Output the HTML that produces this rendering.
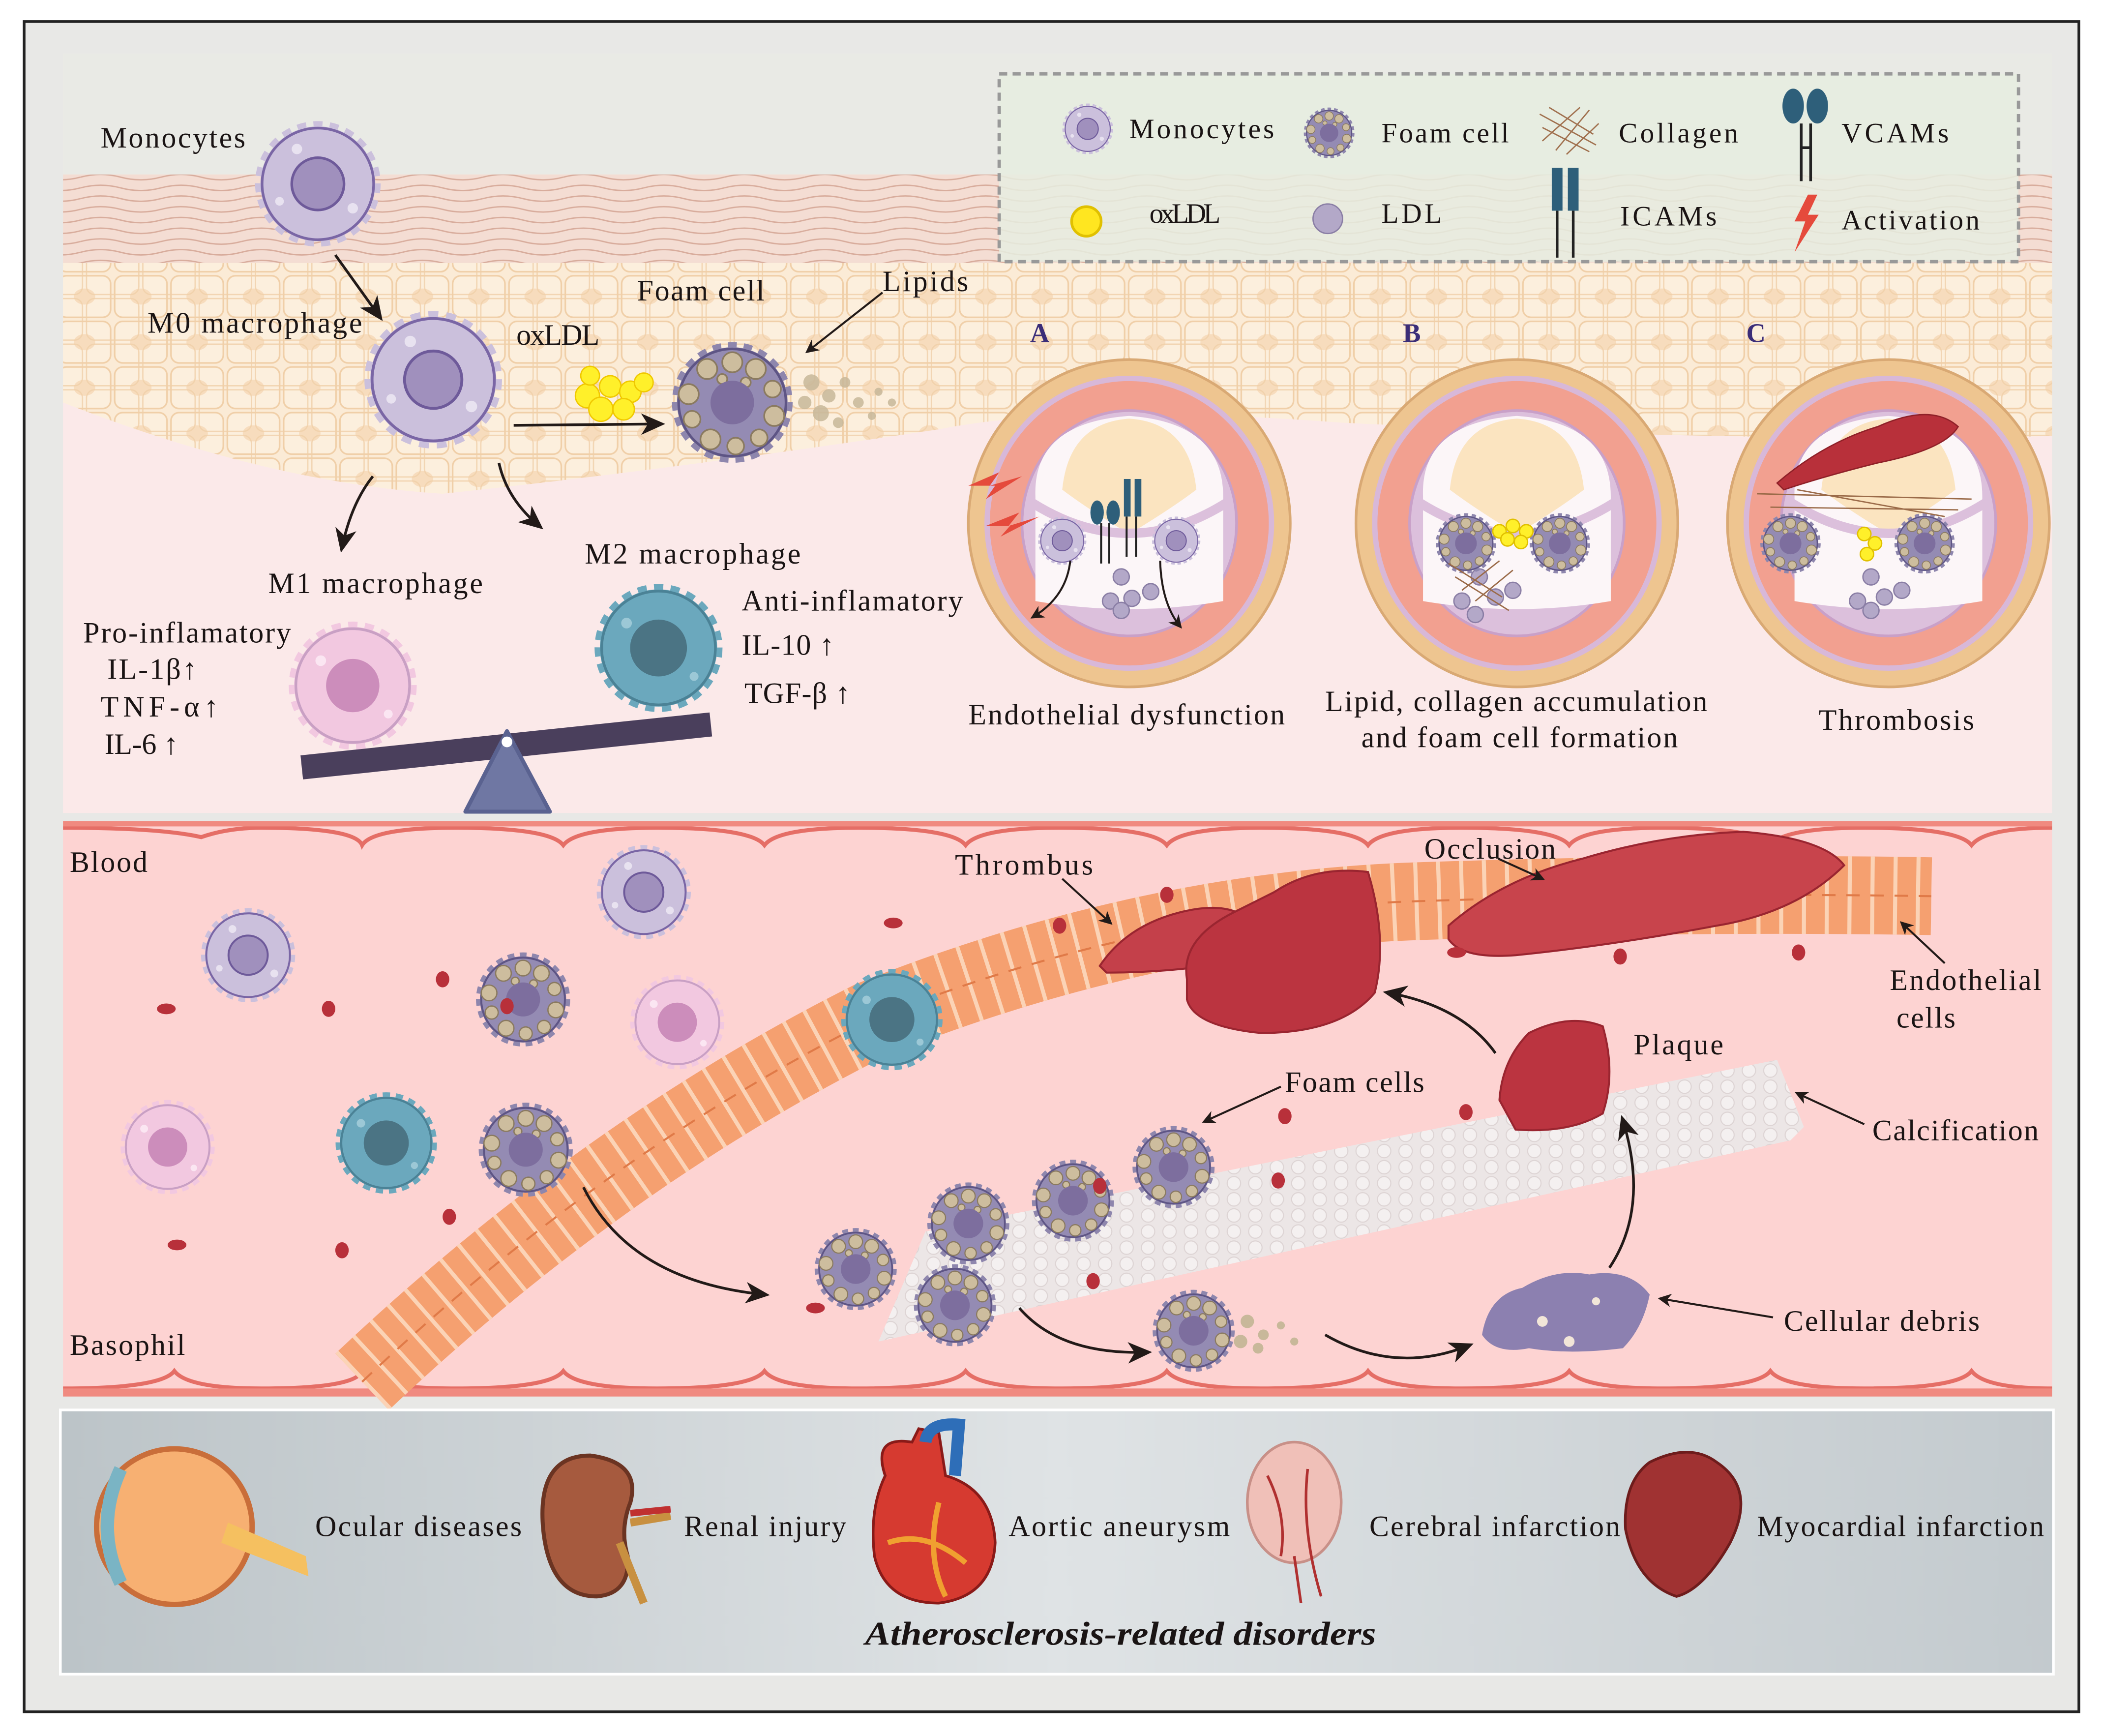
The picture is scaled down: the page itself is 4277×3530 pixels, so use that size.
<!DOCTYPE html>
<html><head><meta charset="utf-8"><style>html,body{margin:0;padding:0;background:#fff}svg{display:block}text{font-family:"Liberation Serif",serif;fill:#1a1414}</style></head><body>
<svg width="4277" height="3530" viewBox="0 0 1568 1294" xmlns="http://www.w3.org/2000/svg">
<defs>
<marker id="ah" markerWidth="10" markerHeight="10" refX="8" refY="5" orient="auto" markerUnits="userSpaceOnUse"><path d="M0,0 L10,5 L0,10 L3,5Z" fill="#221a18"/></marker>
<marker id="ahb" markerWidth="18" markerHeight="16" refX="14" refY="8" orient="auto" markerUnits="userSpaceOnUse"><path d="M0,0 L18,8 L0,16 L5,8Z" fill="#221a18"/></marker>
<symbol id="mono" viewBox="-40 -40 80 80"><circle r="33" fill="#cbc0dc" stroke="#cbc0dc" stroke-width="6" stroke-dasharray="5 4"/><circle r="32" fill="#cbc0dc" stroke="#7a66a5" stroke-width="1.5"/><circle cx="-12" cy="-20" r="3" fill="#e8e2f0"/><circle cx="20" cy="14" r="3" fill="#e8e2f0"/><circle cx="-22" cy="10" r="2.5" fill="#e8e2f0"/><circle r="15" fill="#a090bd" stroke="#6e5a9a" stroke-width="1.5"/></symbol>
<symbol id="foam" viewBox="-40 -40 80 80"><circle r="33" fill="#8e86ad" stroke="#8e86ad" stroke-width="6" stroke-dasharray="5 4"/><circle r="32" fill="#948bb3" stroke="#5e5585" stroke-width="1.5"/><g fill="#cdbd9e" stroke="#8a7a60" stroke-width="1"><circle cx="0" cy="-24" r="6"/><circle cx="14" cy="-20" r="6"/><circle cx="24" cy="-8" r="5"/><circle cx="25" cy="8" r="6"/><circle cx="16" cy="21" r="5"/><circle cx="2" cy="26" r="5"/><circle cx="-13" cy="22" r="6"/><circle cx="-24" cy="10" r="5"/><circle cx="-26" cy="-5" r="6"/><circle cx="-15" cy="-20" r="6"/><circle cx="-6" cy="-14" r="3"/><circle cx="8" cy="-12" r="3"/></g><circle r="13" fill="#7d6e9e"/></symbol>
<symbol id="m1" viewBox="-40 -40 80 80"><circle r="33" fill="#f2c8e0" stroke="#f2c8e0" stroke-width="6" stroke-dasharray="5 4"/><circle r="32" fill="#f2c8e0" stroke="#c9a0c4" stroke-width="1.5"/><circle cx="-18" cy="-14" r="3" fill="#fbe6f2"/><circle cx="20" cy="16" r="2.5" fill="#fbe6f2"/><circle r="15" fill="#cc8dbb"/></symbol>
<symbol id="m2" viewBox="-40 -40 80 80"><circle r="33" fill="#6ba8bd" stroke="#6ba8bd" stroke-width="6" stroke-dasharray="5 4"/><circle r="32" fill="#6ba8bd" stroke="#4b8296" stroke-width="1.5"/><circle cx="-18" cy="-14" r="3" fill="#9cc8d6"/><circle cx="20" cy="16" r="2.5" fill="#9cc8d6"/><circle r="16" fill="#4b7484"/></symbol>
<pattern id="cells" width="42" height="34" patternUnits="userSpaceOnUse"><rect width="42" height="34" fill="#fbebd6"/><rect x="1.5" y="1.5" width="39" height="31" rx="6" fill="#fcefdd" stroke="#f0cfa8" stroke-width="1.2"/><ellipse cx="21" cy="17" rx="8" ry="6" fill="#f7dcbd"/></pattern>
<pattern id="cells2" x="21" y="17" width="42" height="34" patternUnits="userSpaceOnUse"><rect x="1.5" y="1.5" width="39" height="31" rx="6" fill="none" stroke="#f0cfa8" stroke-width="1"/></pattern>
<pattern id="fib" width="60" height="8" patternUnits="userSpaceOnUse"><rect width="60" height="8" fill="#f4ddd3"/><path d="M0,4 Q15,0 30,4 T60,4" fill="none" stroke="#d8ac9c" stroke-width="1"/></pattern>
<pattern id="calc" width="16" height="12" patternUnits="userSpaceOnUse"><rect width="16" height="12" fill="#ece6e6"/><circle cx="8" cy="6" r="5" fill="#f4f0f0" stroke="#ddd4d4" stroke-width="0.8"/></pattern>
<linearGradient id="gr" x1="0" x2="1"><stop offset="0" stop-color="#bcc4c8"/><stop offset="0.5" stop-color="#dfe3e5"/><stop offset="1" stop-color="#c3cace"/></linearGradient>
<symbol id="art" viewBox="-130 -130 260 260"><ellipse rx="120" ry="122" fill="#eec590" stroke="#d9a974" stroke-width="2"/><ellipse rx="106" ry="108" fill="#f2a090" stroke="#d8b8d8" stroke-width="4"/><ellipse rx="80" ry="84" fill="#dcc0dc" stroke="#c9a0c8" stroke-width="2"/><path d="M-70,-20 Q-72,-75 0,-80 Q70,-75 70,-20 L70,58 Q0,70 -70,58Z" fill="#fcf6f8"/><path d="M-50,-25 Q-45,-75 0,-78 Q45,-75 50,-25 Q30,-10 0,8 Q-30,-10 -50,-25Z" fill="#fbe4c0"/><path d="M-72,-15 Q0,30 72,-15" fill="none" stroke="#dcc0dc" stroke-width="7"/></symbol>
</defs>

<rect x="18" y="16" width="1532" height="1260" fill="#e8e8e6" stroke="#222" stroke-width="2"/>
<rect x="47" y="40" width="1483" height="566" fill="#fbe9e9"/>
<rect x="47" y="40" width="1483" height="92" fill="#e9eae5"/>
<rect x="47" y="130" width="1483" height="68" fill="url(#fib)"/>
<path d="M47,196 L1530,196 L1530,325 Q1300,330 1000,315 Q800,300 700,320 Q500,350 330,368 Q200,360 47,300Z" fill="url(#cells)"/>
<path d="M47,196 L1530,196 L1530,325 Q1300,330 1000,315 Q800,300 700,320 Q500,350 330,368 Q200,360 47,300Z" fill="url(#cells2)" opacity="0.8"/>

<rect x="745" y="55" width="760" height="140" fill="#e6ede0" fill-opacity="0.85" stroke="#999" stroke-width="2.5" stroke-dasharray="6 4"/>
<use href="#mono" x="790" y="75" width="42" height="42"/>
<use href="#foam" x="970" y="78" width="42" height="42"/>
<g stroke="#a0704e" stroke-width="1" fill="none"><path d="M1148,85 L1190,108 M1150,95 L1185,113 M1155,80 L1188,100 M1160,112 L1185,82 M1150,105 L1178,80 M1168,115 L1192,92"/></g>
<g fill="#2e5f7a"><ellipse cx="1337" cy="79" rx="8" ry="13"/><ellipse cx="1355" cy="79" rx="8" ry="13"/></g>
<path d="M1343,92 V135 M1350,92 V135 M1343,110 H1350" stroke="#222" stroke-width="2"/>
<circle cx="810" cy="165" r="11" fill="#ffe620" stroke="#e0c000" stroke-width="2"/>
<circle cx="990" cy="163" r="11" fill="#b3a8c8" stroke="#8a7ea5"/>
<rect x="1157" y="125" width="8" height="32" fill="#2e5f7a"/><rect x="1169" y="125" width="8" height="32" fill="#2e5f7a"/>
<path d="M1161,157 V192 M1173,157 V192" stroke="#222" stroke-width="2"/>
<path d="M1348,145 L1338,165 L1346,165 L1338,188 L1356,160 L1348,160 L1355,145Z" fill="#e54a3c"/>
<g font-size="21" lengthAdjust="spacingAndGlyphs">
<text x="842" y="103" textLength="108">Monocytes</text><text x="1030" y="106" textLength="95">Foam cell</text><text x="1207" y="106" textLength="89">Collagen</text><text x="1373" y="106" textLength="80">VCAMs</text>
<text x="857" y="166" textLength="53">oxLDL</text><text x="1030" y="166" textLength="45">LDL</text><text x="1208" y="168" textLength="72">ICAMs</text><text x="1373" y="171" textLength="103">Activation</text>
</g>

<use href="#mono" x="185" y="85" width="104" height="104"/>
<use href="#mono" x="266" y="226" width="114" height="114"/>
<use href="#foam" x="496" y="250" width="100" height="100"/>
<g fill="#fff02a" stroke="#f0c800"><circle cx="438" cy="295" r="9"/><circle cx="455" cy="288" r="8"/><circle cx="470" cy="292" r="8"/><circle cx="448" cy="305" r="9"/><circle cx="465" cy="305" r="8"/><circle cx="480" cy="285" r="7"/><circle cx="440" cy="280" r="7"/></g>
<g fill="#c8b89a" opacity="0.85"><circle cx="605" cy="285" r="6"/><circle cx="618" cy="295" r="5"/><circle cx="630" cy="285" r="4"/><circle cx="612" cy="308" r="6"/><circle cx="640" cy="300" r="4"/><circle cx="655" cy="292" r="3"/><circle cx="600" cy="300" r="5"/><circle cx="625" cy="315" r="4"/><circle cx="665" cy="300" r="3"/><circle cx="650" cy="310" r="3"/></g>
<path d="M250,190 L283,236" stroke="#221a18" stroke-width="2" marker-end="url(#ahb)"/>
<path d="M383,317 L492,316" stroke="#221a18" stroke-width="2" marker-end="url(#ahb)"/>
<path d="M658,218 L602,262" stroke="#221a18" stroke-width="1.5" marker-end="url(#ah)"/>
<path d="M278,355 Q262,375 255,408" fill="none" stroke="#221a18" stroke-width="2" marker-end="url(#ahb)"/>
<path d="M372,345 Q378,372 402,392" fill="none" stroke="#221a18" stroke-width="2" marker-end="url(#ahb)"/>
<use href="#m1" x="210" y="458" width="106" height="106"/>
<use href="#m2" x="438" y="430" width="106" height="106"/>
<path d="M225,572 L530,540" stroke="#4a3f5c" stroke-width="18"/>
<path d="M378,545 L410,605 L347,605Z" fill="#6f77a3" stroke="#5a6290" stroke-width="3" stroke-linejoin="round"/>
<circle cx="378" cy="553" r="4" fill="#fff"/>
<g font-size="22" lengthAdjust="spacingAndGlyphs">
<text x="75" y="110" textLength="108">Monocytes</text><text x="110" y="248" textLength="160">M0 macrophage</text><text x="385" y="257" textLength="62">oxLDL</text><text x="475" y="224" textLength="95">Foam cell</text><text x="658" y="217" textLength="64">Lipids</text>
<text x="200" y="442" textLength="160">M1 macrophage</text><text x="436" y="420" textLength="161">M2 macrophage</text>
<text x="62" y="479" textLength="155">Pro-inflamatory</text><text x="80" y="506" textLength="67">IL-1β↑</text><text x="75" y="534" textLength="88">TNF-α↑</text><text x="78" y="562" textLength="55">IL-6 ↑</text>
<text x="553" y="455" textLength="165">Anti-inflamatory</text><text x="553" y="488" textLength="69">IL-10 ↑</text><text x="555" y="524" textLength="79">TGF-β ↑</text>
<text x="722" y="540" textLength="236">Endothelial dysfunction</text><text x="988" y="530" textLength="285">Lipid, collagen accumulation</text><text x="1015" y="557" textLength="236">and foam cell formation</text><text x="1356" y="544" textLength="116">Thrombosis</text>
</g>
<g font-size="20" font-weight="bold"><text x="768" y="255" style="fill:#3b2d78">A</text><text x="1046" y="255" style="fill:#3b2d78">B</text><text x="1302" y="255" style="fill:#3b2d78">C</text></g>

<use href="#art" x="712" y="260" width="260" height="260"/>
<use href="#art" x="1001" y="260" width="260" height="260"/>
<use href="#art" x="1278" y="260" width="260" height="260"/>
<path d="M722,362 L745,352 L738,362 L762,355 L735,372 L742,362Z M735,392 L760,382 L752,392 L775,385 L746,400 L753,392Z" fill="#e54a3c"/>
<use href="#mono" x="772" y="383" width="40" height="40"/><use href="#mono" x="857" y="383" width="40" height="40"/>
<g fill="#2e5f7a"><ellipse cx="818" cy="382" rx="5" ry="9"/><ellipse cx="830" cy="382" rx="5" ry="9"/><rect x="838" y="357" width="5" height="28"/><rect x="846" y="357" width="5" height="28"/></g>
<path d="M821,390 V420 M827,390 V420 M840,385 V415 M847,385 V415" stroke="#222" stroke-width="1.5"/>
<g fill="#b3a8c8" stroke="#8a7ea5"><circle cx="836" cy="430" r="6"/><circle cx="828" cy="448" r="6"/><circle cx="844" cy="446" r="6"/><circle cx="858" cy="441" r="6"/><circle cx="836" cy="455" r="6"/><circle cx="1103" cy="430" r="6"/><circle cx="1090" cy="448" r="6"/><circle cx="1115" cy="445" r="6"/><circle cx="1128" cy="440" r="6"/><circle cx="1100" cy="458" r="6"/><circle cx="1395" cy="430" r="6"/><circle cx="1385" cy="448" r="6"/><circle cx="1405" cy="445" r="6"/><circle cx="1418" cy="440" r="6"/><circle cx="1395" cy="455" r="6"/></g>
<path d="M798,418 Q795,445 770,460" fill="none" stroke="#221a18" stroke-width="1.5" marker-end="url(#ah)"/>
<path d="M865,418 Q866,450 880,467" fill="none" stroke="#221a18" stroke-width="1.5" marker-end="url(#ah)"/>
<use href="#foam" x="1068" y="380" width="50" height="50"/><use href="#foam" x="1138" y="380" width="50" height="50"/>
<use href="#foam" x="1310" y="380" width="50" height="50"/><use href="#foam" x="1410" y="380" width="50" height="50"/>
<g fill="#fff02a" stroke="#e0c000"><circle cx="1118" cy="396" r="5"/><circle cx="1128" cy="392" r="5"/><circle cx="1138" cy="396" r="5"/><circle cx="1124" cy="402" r="5"/><circle cx="1134" cy="404" r="5"/><circle cx="1390" cy="398" r="5"/><circle cx="1398" cy="405" r="5"/><circle cx="1392" cy="413" r="5"/></g>
<g stroke="#9a6a48" stroke-width="1" fill="none"><path d="M1080,420 L1120,445 M1085,430 L1125,455 M1090,440 L1118,418 M1100,448 L1128,425 M1310,368 L1470,372 M1320,378 L1460,380 M1340,365 L1450,385"/></g>
<path d="M1325,360 Q1360,330 1400,318 Q1440,300 1460,318 Q1450,335 1400,345 Q1360,355 1330,365Z" fill="#b8303a" stroke="#8f2028"/>

<rect x="47" y="612" width="1483" height="428" fill="#fdd3d2"/>
<g fill="none" stroke="#e56e66" stroke-width="3"><path d="M47,617 Q120,617 150,624 Q170,617 195,617 Q265,617 270,630 Q278,617 340,617 Q410,617 420,630 Q430,617 490,617 Q560,617 570,630 Q580,617 640,617 Q710,617 720,630 Q730,617 790,617 Q860,617 870,630 Q880,617 940,617 Q1010,617 1020,630 Q1030,617 1090,617 Q1160,617 1170,630 Q1180,617 1240,617 Q1310,617 1320,630 Q1330,617 1390,617 Q1460,617 1470,630 Q1480,617 1530,617"/>
<path d="M47,1035 Q120,1035 130,1022 Q140,1035 195,1035 Q265,1035 270,1022 Q278,1035 340,1035 Q410,1035 420,1022 Q430,1035 490,1035 Q560,1035 570,1022 Q580,1035 640,1035 Q710,1035 720,1022 Q730,1035 790,1035 Q860,1035 870,1022 Q880,1035 940,1035 Q1010,1035 1020,1022 Q1030,1035 1090,1035 Q1160,1035 1170,1022 Q1180,1035 1240,1035 Q1310,1035 1320,1022 Q1330,1035 1390,1035 Q1460,1035 1470,1022 Q1480,1035 1530,1035"/></g>
<rect x="47" y="1035" width="1483" height="6" fill="#f08a80"/>
<rect x="47" y="612" width="1483" height="4" fill="#f08a80"/>
<polygon points="655,1000 690,918 1325,790 1345,840 1335,850" fill="url(#calc)"/>
<path d="M270,1030 Q450,860 650,760 Q850,680 1050,672 Q1250,665 1440,668" fill="none" stroke="#f5a070" stroke-width="58"/>
<path d="M270,1030 Q450,860 650,760 Q850,680 1050,672 Q1250,665 1440,668" fill="none" stroke="#fde0c8" stroke-width="58" stroke-dasharray="3 14" opacity="0.8"/>
<path d="M270,1030 Q450,860 650,760 Q850,680 1050,672 Q1250,665 1440,668" fill="none" stroke="#e07a48" stroke-width="1.5" stroke-dasharray="10 8"/>
<g fill="#c4404a" stroke="#9a2530" stroke-width="1.5">
<path d="M820,720 Q840,690 880,680 Q920,670 935,690 L930,715 Q880,725 825,725Z"/>
<path d="M885,730 Q880,700 920,680 L950,665 Q980,645 1020,650 Q1035,700 1025,740 Q1000,770 940,770 Q890,765 885,745Z" fill="#bb3440"/>
<path d="M1080,690 Q1120,655 1180,640 Q1240,622 1300,620 Q1360,625 1375,645 Q1340,680 1280,690 Q1200,705 1130,712 Q1090,715 1080,700Z" fill="#c8444c"/>
<path d="M1118,820 Q1120,790 1140,770 Q1170,755 1195,765 Q1205,800 1195,830 Q1170,845 1130,842Z" fill="#bb3440"/>
</g>
<use href="#mono" x="146" y="673" width="78" height="78"/><use href="#mono" x="441" y="626" width="78" height="78"/>
<use href="#foam" x="351" y="706" width="78" height="78"/><use href="#foam" x="353" y="818" width="78" height="78"/>
<use href="#m1" x="466" y="723" width="78" height="78"/><use href="#m1" x="86" y="816" width="78" height="78"/>
<use href="#m2" x="246" y="810" width="84" height="84"/><use href="#m2" x="623" y="718" width="84" height="84"/>
<use href="#foam" x="604" y="912" width="68" height="68"/><use href="#foam" x="688" y="878" width="68" height="68"/><use href="#foam" x="766" y="861" width="68" height="68"/><use href="#foam" x="841" y="836" width="68" height="68"/><use href="#foam" x="678" y="939" width="68" height="68"/><use href="#foam" x="856" y="958" width="68" height="68"/>
<g fill="#c8b89a"><circle cx="930" cy="985" r="5"/><circle cx="942" cy="995" r="4"/><circle cx="955" cy="988" r="3"/><circle cx="938" cy="1005" r="4"/><circle cx="965" cy="1000" r="3"/><circle cx="925" cy="1000" r="5"/></g>
<g fill="#b8303a"><ellipse cx="330" cy="730" rx="5" ry="6"/><ellipse cx="378" cy="750" rx="5" ry="6"/><ellipse cx="245" cy="752" rx="5" ry="6"/><ellipse cx="124" cy="752" rx="7" ry="4"/><ellipse cx="666" cy="688" rx="7" ry="4"/><ellipse cx="870" cy="667" rx="5" ry="6"/><ellipse cx="790" cy="690" rx="5" ry="6"/><ellipse cx="335" cy="907" rx="5" ry="6"/><ellipse cx="255" cy="932" rx="5" ry="6"/><ellipse cx="132" cy="928" rx="7" ry="4"/><ellipse cx="608" cy="975" rx="7" ry="4"/><ellipse cx="815" cy="955" rx="5" ry="6"/><ellipse cx="953" cy="880" rx="5" ry="6"/><ellipse cx="958" cy="832" rx="5" ry="6"/><ellipse cx="1093" cy="829" rx="5" ry="6"/><ellipse cx="1086" cy="710" rx="7" ry="4"/><ellipse cx="1208" cy="713" rx="5" ry="6"/><ellipse cx="1341" cy="710" rx="5" ry="6"/><ellipse cx="820" cy="884" rx="5" ry="6"/></g>
<g fill="#8c80b0"><path d="M1105,995 Q1110,965 1135,960 Q1160,945 1185,950 Q1215,945 1230,965 Q1225,990 1210,1005 Q1170,1010 1140,1005 Q1115,1010 1105,995Z"/></g>
<g fill="#f2e6d8"><circle cx="1150" cy="985" r="4"/><circle cx="1190" cy="970" r="3"/><circle cx="1170" cy="1000" r="4"/></g>
<path d="M435,885 Q470,955 570,965" fill="none" stroke="#221a18" stroke-width="2" marker-end="url(#ahb)"/>
<path d="M760,975 Q790,1010 855,1008" fill="none" stroke="#221a18" stroke-width="2" marker-end="url(#ahb)"/>
<path d="M988,995 Q1040,1025 1095,1003" fill="none" stroke="#221a18" stroke-width="2" marker-end="url(#ahb)"/>
<path d="M1200,945 Q1230,900 1210,835" fill="none" stroke="#221a18" stroke-width="2" marker-end="url(#ahb)"/>
<path d="M1115,785 Q1090,750 1035,740" fill="none" stroke="#221a18" stroke-width="2" marker-end="url(#ahb)"/>
<g stroke="#221a18" stroke-width="1.5" fill="none" marker-end="url(#ah)">
<path d="M792,655 L828,688"/><path d="M1117,640 L1150,655"/><path d="M1450,718 L1418,688"/><path d="M955,810 L898,836"/><path d="M1390,838 L1340,815"/><path d="M1322,982 L1238,968"/>
</g>
<g font-size="22" lengthAdjust="spacingAndGlyphs">
<text x="52" y="650" textLength="58">Blood</text><text x="52" y="1010" textLength="86">Basophil</text><text x="712" y="652" textLength="103">Thrombus</text><text x="1062" y="640" textLength="98">Occlusion</text>
<text x="1409" y="738" textLength="113">Endothelial</text><text x="1414" y="766" textLength="44">cells</text><text x="1218" y="786" textLength="67">Plaque</text><text x="958" y="814" textLength="104">Foam cells</text>
<text x="1396" y="850" textLength="124">Calcification</text><text x="1330" y="992" textLength="146">Cellular debris</text>
</g>

<rect x="45" y="1051" width="1486" height="197" fill="url(#gr)" stroke="#fff" stroke-width="2"/>
<circle cx="130" cy="1138" r="58" fill="#f7b072" stroke="#c96e3a" stroke-width="4"/>
<path d="M90,1095 Q70,1138 90,1180" fill="none" stroke="#7ab4c4" stroke-width="10"/>
<path d="M165,1150 L230,1175 L228,1160 L170,1135Z" fill="#f5c060"/>
<path d="M440,1085 Q400,1085 405,1140 Q410,1190 445,1190 Q470,1188 468,1160 Q462,1140 470,1120 Q478,1090 440,1085Z" fill="#a65a3e" stroke="#6b3422" stroke-width="3"/>
<path d="M470,1135 L500,1130 M462,1150 L480,1195" stroke="#c89040" stroke-width="6"/>
<path d="M470,1128 L500,1125" stroke="#c03030" stroke-width="5"/>
<path d="M660,1100 Q650,1070 680,1075 L685,1065 L700,1068 L705,1100 Q740,1110 742,1150 Q740,1190 700,1195 Q660,1195 652,1160 Q648,1125 660,1100Z" fill="#d63a30" stroke="#8a1a18" stroke-width="2"/>
<path d="M662,1150 Q690,1140 720,1165 M700,1120 Q690,1160 705,1190" stroke="#f0a030" stroke-width="4" fill="none"/>
<path d="M690,1075 Q692,1060 715,1062 L712,1100" fill="none" stroke="#2e6eb8" stroke-width="9"/>
<ellipse cx="965" cy="1120" rx="35" ry="45" fill="#f0c0b8" stroke="#c89088" stroke-width="2"/>
<path d="M945,1100 Q960,1130 955,1160 M975,1095 Q970,1140 985,1190 M965,1160 L970,1195" stroke="#b03030" stroke-width="2" fill="none"/>
<path d="M1230,1090 Q1260,1075 1280,1090 Q1310,1110 1290,1150 Q1270,1185 1250,1190 Q1220,1180 1212,1140 Q1210,1105 1230,1090Z" fill="#a03232" stroke="#6e1c1c" stroke-width="2"/>
<g font-size="22" lengthAdjust="spacingAndGlyphs">
<text x="235" y="1145" textLength="154">Ocular diseases</text><text x="510" y="1145" textLength="121">Renal injury</text><text x="752" y="1145" textLength="165">Aortic aneurysm</text><text x="1021" y="1145" textLength="187">Cerebral infarction</text><text x="1310" y="1145" textLength="214">Myocardial infarction</text>
</g>
<text x="645" y="1226" font-size="25" font-style="italic" font-weight="bold" textLength="381" lengthAdjust="spacingAndGlyphs">Atherosclerosis-related disorders</text>
</svg>
</body></html>
